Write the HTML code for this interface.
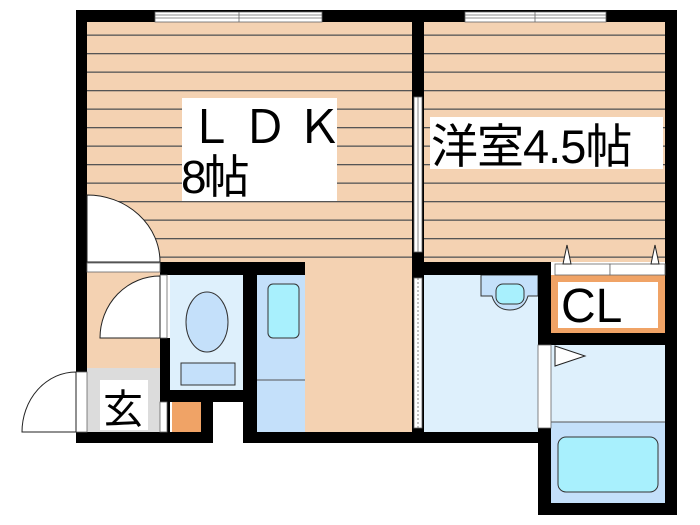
<!DOCTYPE html>
<html><head><meta charset="utf-8"><style>
html,body{margin:0;padding:0;background:#fff;width:700px;height:525px;overflow:hidden}
svg{display:block}
text{font-family:"Liberation Sans","Noto Sans CJK JP",sans-serif;fill:#000}
</style></head><body>
<svg width="700" height="525" viewBox="0 0 700 525" xmlns="http://www.w3.org/2000/svg">
<defs>
<pattern id="st" x="0" y="16" width="10" height="18.5" patternUnits="userSpaceOnUse">
<rect width="10" height="18.5" fill="#f4d2b2"/>
<rect y="0" width="10" height="1.3" fill="#555"/>
</pattern>
</defs>
<rect x="87" y="22" width="325" height="240" fill="url(#st)"/>
<rect x="424" y="22" width="241" height="240" fill="url(#st)"/>
<rect x="305" y="262" width="107" height="170" fill="#f4d2b2"/>
<rect x="87" y="272" width="73" height="96" fill="#f4d2b2"/>
<rect x="87" y="368" width="73" height="64" fill="#dcdcdc"/>
<rect x="170" y="275" width="73" height="115" fill="#def0fc"/>
<rect x="257" y="275" width="48" height="157" fill="#c4e0fa"/>
<line x1="257" y1="380" x2="305" y2="380" stroke="#555" stroke-width="1"/>
<rect x="268" y="284" width="31" height="54" rx="5" fill="#a8f0fd" stroke="#333" stroke-width="1"/>
<rect x="424" y="275" width="114" height="157" fill="#def0fc"/>
<path d="M481 275 H538 V296 H528 Q524 310 510 310 Q496 310 492 296 H481 Z" fill="#c4e0fa" stroke="#333" stroke-width="1"/>
<rect x="496" y="284" width="28" height="20" rx="7" fill="#a8f0fd" stroke="#333" stroke-width="1"/>
<rect x="551" y="345" width="114" height="77" fill="#def0fc"/>
<rect x="551" y="422" width="114" height="81" fill="#c4e0fa"/>
<line x1="551" y1="422" x2="665" y2="422" stroke="#555"/>
<rect x="558" y="437" width="100" height="55" rx="8" fill="#a8f0fd" stroke="#333" stroke-width="1"/>
<rect x="551" y="275" width="114" height="58" fill="#f0a366"/>
<rect x="558" y="282" width="100" height="46" fill="#fff"/>
<ellipse cx="207" cy="322" rx="21" ry="30" fill="#c4e0fa" stroke="#333"/>
<rect x="181" y="363" width="54" height="22" fill="#c4e0fa" stroke="#333"/>
<rect x="172" y="402" width="29" height="30" fill="#f0a366"/>
<g fill="#000">
<rect x="76" y="10" width="601" height="12"/>
<rect x="76" y="10" width="11" height="433"/>
<rect x="665" y="10" width="12" height="505"/>
<rect x="412" y="10" width="12" height="433"/>
<rect x="160" y="262" width="145" height="13"/>
<rect x="412" y="262" width="139" height="13"/>
<rect x="243" y="262" width="14" height="181"/>
<rect x="160" y="338" width="10" height="105"/>
<rect x="160" y="390" width="83" height="12"/>
<rect x="201" y="390" width="12" height="53"/>
<rect x="76" y="432" width="137" height="11"/>
<rect x="243" y="432" width="181" height="11"/>
<rect x="412" y="432" width="139" height="11"/>
<rect x="538" y="262" width="13" height="253"/>
<rect x="551" y="333" width="114" height="12"/>
<rect x="538" y="503" width="139" height="12"/>
</g>
<g fill="#fff" stroke="#666" stroke-width="0.8">
<rect x="155" y="12" width="167" height="10"/>
<line x1="155" y1="15" x2="322" y2="15"/><line x1="155" y1="18" x2="322" y2="18"/>
<line x1="239" y1="12" x2="239" y2="22"/>
<rect x="465" y="12" width="141" height="10"/>
<line x1="465" y1="15" x2="606" y2="15"/><line x1="465" y1="18" x2="606" y2="18"/>
<line x1="535" y1="12" x2="535" y2="22"/>
<rect x="414" y="97" width="8" height="155"/>
<line x1="418" y1="97" x2="418" y2="252"/>
<rect x="414" y="278" width="8" height="150"/>
<line x1="418" y1="278" x2="418" y2="428" stroke-dasharray="2,2"/>
<rect x="87" y="263" width="73" height="9"/>
<rect x="160" y="275" width="7" height="63"/>
<rect x="76" y="372" width="11" height="60"/>
<rect x="160" y="402" width="7" height="30"/>
<rect x="213" y="402" width="30" height="41" stroke="none"/>
<rect x="538" y="345" width="13" height="83"/>
<rect x="555" y="264" width="55" height="11"/>
<rect x="610" y="264" width="55" height="11"/>
</g>
<g fill="#fff" stroke="#222" stroke-width="1">
<path d="M87 195 A73 67 0 0 1 160 262 H87 Z"/>
<path d="M160 276 A60 62 0 0 0 100 338 H160 Z"/>
<path d="M76 372 A54 60 0 0 0 22 432 H76 Z"/>
<path d="M555 346 L585 356 L555 366 Z"/>
<path d="M563 264 L567 245 L571 264 Z"/>
<path d="M651 264 L655 245 L659 264 Z"/>
</g>
<rect x="182" y="98" width="155" height="103" fill="#fff"/>
<text x="188" y="143" font-size="46" letter-spacing="8">ＬＤＫ</text>
<text x="181" y="193" font-size="46" letter-spacing="-3">8帖</text>
<rect x="430" y="117" width="233" height="52" fill="#fff"/>
<text x="431" y="163" font-size="47" letter-spacing="-1">洋室4.5帖</text>
<rect x="100" y="380" width="48" height="50" fill="#fff"/>
<text x="103" y="423" font-size="40">玄</text>
<text x="561" y="322" font-size="48">CL</text>
</svg>
</body></html>
